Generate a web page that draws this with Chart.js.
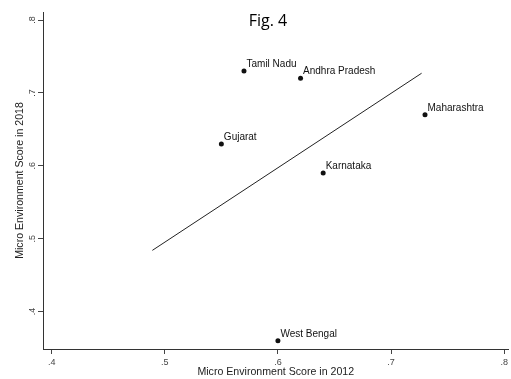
<!DOCTYPE html>
<html>
<head>
<meta charset="utf-8">
<script src="https://cdn.jsdelivr.net/npm/chart.js@4/dist/chart.umd.min.js"></script>
<style>
  body { margin: 0; background: #fff; }
  #wrap { width: 511px; height: 379px; }
</style>
</head>
<body>
<div id="wrap"><canvas id="fig4" width="511" height="379"></canvas></div>
<script>
'use strict';
// values
var states = ['Tamil Nadu', 'Andhra Pradesh', 'Maharashtra', 'Gujarat', 'Karnataka', 'West Bengal'];
var score2012 = [0.57, 0.62, 0.73, 0.55, 0.64, 0.60];
var score2018 = [0.73, 0.72, 0.67, 0.63, 0.59, 0.36];
var fitX = [0.489, 0.727];
var fitY = [0.484, 0.727];
var xTicks = [0.4, 0.5, 0.6, 0.7, 0.8];
var yTicks = [0.4, 0.5, 0.6, 0.7, 0.8];

var labelFont = '"Liberation Sans", Arial, sans-serif';

function stataLabel(v) {
    return v.toFixed(1).replace(/^0/, '');
}

var points = [];
for (var i = 0; i < states.length; i++) {
    points.push({ x: score2012[i], y: score2018[i] });
}
var fitLine = [];
for (var j = 0; j < fitX.length; j++) {
    fitLine.push({ x: fitX[j], y: fitY[j] });
}

// state names next to the dots + the "Fig. 4" heading
var textPlugin = {
    id: 'textPlugin',
    afterDatasetsDraw: function (chart) {
        var ctx = chart.ctx;
        var meta = chart.getDatasetMeta(0);
        ctx.save();
        ctx.fillStyle = '#111';
        ctx.font = '10px ' + labelFont;
        ctx.textAlign = 'left';
        ctx.textBaseline = 'alphabetic';
        meta.data.forEach(function (pt, k) {
            ctx.fillText(states[k], pt.x + 2.5, pt.y - 4);
        });
        ctx.font = '16px "Open Sans", sans-serif';
        ctx.textAlign = 'center';
        ctx.fillStyle = '#000';
        ctx.fillText('Fig. 4', 268, 26);
        ctx.restore();
    }
};

function axisGrid() {
    return { drawOnChartArea: false, drawTicks: true, tickLength: 5, color: '#444', lineWidth: 1 };
}

new Chart(document.getElementById('fig4'), {
    type: 'scatter',
    data: {
        datasets: [{
            data: points,
            pointRadius: 2.5,
            pointHoverRadius: 2.5,
            backgroundColor: '#111',
            borderColor: '#111',
            borderWidth: 0
        }, {
            data: fitLine,
            showLine: true,
            pointRadius: 0,
            borderColor: '#222',
            borderWidth: 1
        }]
    },
    options: {
        responsive: false,
        animation: false,
        events: [],
        layout: { padding: { top: 12, right: 0, left: 0, bottom: 0 } },
        plugins: { legend: { display: false }, tooltip: { enabled: false } },
        scales: {
            x: {
                type: 'linear',
                min: 0.39235,
                max: 0.8038,
                afterFit: function (s) {
                    s.height = 30;
                    s.paddingLeft = 0;
                    s.paddingRight = 0;
                },
                afterBuildTicks: function (s) {
                    s.ticks = xTicks.map(function (v) { return { value: v }; });
                },
                grid: axisGrid(),
                border: { display: true, color: '#333', width: 1 },
                ticks: {
                    callback: stataLabel,
                    color: '#444',
                    font: { family: labelFont, size: 9 },
                    padding: 3,
                    maxRotation: 0,
                    minRotation: 0
                },
                title: {
                    display: true,
                    text: 'Micro Environment Score in 2012',
                    color: '#222',
                    font: { family: labelFont, size: 10.6 },
                    padding: { top: 0, bottom: 0.6 }
                }
            },
            y: {
                type: 'linear',
                min: 0.3487,
                max: 0.811,
                afterFit: function (s) {
                    s.width = 43;
                    s.paddingTop = 0;
                    s.paddingBottom = 0;
                },
                afterBuildTicks: function (s) {
                    s.ticks = yTicks.map(function (v) { return { value: v }; });
                },
                grid: axisGrid(),
                border: { display: true, color: '#333', width: 1 },
                ticks: {
                    callback: stataLabel,
                    color: '#444',
                    font: { family: labelFont, size: 9 },
                    padding: 2,
                    minRotation: 90,
                    maxRotation: 90,
                    crossAlign: 'center'
                },
                title: {
                    display: true,
                    text: 'Micro Environment Score in 2018',
                    color: '#222',
                    font: { family: labelFont, size: 10.6 },
                    padding: { top: 13.9, bottom: 0 }
                }
            }
        }
    },
    plugins: [textPlugin]
});
</script>
</body>
</html>
